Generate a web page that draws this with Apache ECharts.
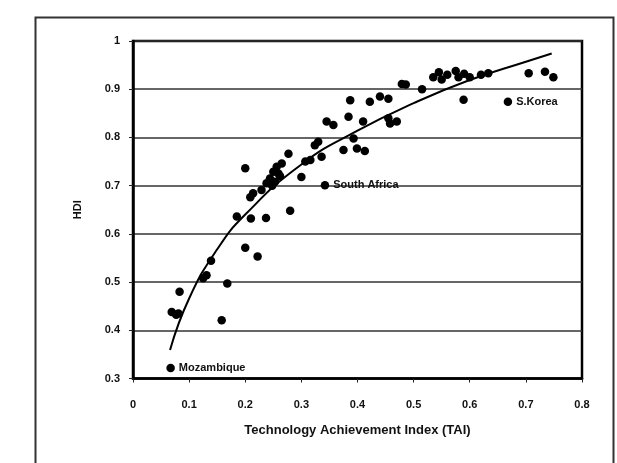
<!DOCTYPE html>
<html>
<head>
<meta charset="utf-8">
<script src="https://cdn.jsdelivr.net/npm/echarts@6/dist/echarts.min.js"></script>
<style>
html,body{margin:0;padding:0;background:#fff;}
#chart{width:617px;height:463px;}
</style>
</head>
<body>
<div id="chart"></div>
<script>
// Country points: Technology Achievement Index (TAI) vs HDI
var taiValues = [0.069,0.081,0.077,0.083,0.125,0.131,0.139,0.168,0.158,0.185,0.210,0.237,0.280,0.200,0.222,
  0.200,0.209,0.214,0.229,0.238,0.244,0.253,0.250,0.259,0.256,0.265,0.277,0.262,0.248,
  0.300,0.307,0.316,0.324,0.330,0.336,0.345,0.357,0.384,0.387,0.375,0.393,0.399,0.413,0.410,
  0.422,0.440,0.455,0.455,0.470,0.458,0.479,0.486,0.515,0.535,0.545,0.550,0.560,0.575,0.580,
  0.590,0.600,0.620,0.633,0.589,0.705,0.734,0.749];
var hdiValues = [0.438,0.435,0.432,0.480,0.508,0.514,0.544,0.497,0.421,0.636,0.632,0.633,0.648,0.571,0.553,
  0.736,0.676,0.684,0.691,0.705,0.715,0.708,0.729,0.725,0.739,0.746,0.766,0.720,0.700,
  0.718,0.750,0.753,0.784,0.791,0.760,0.833,0.826,0.843,0.877,0.774,0.798,0.777,0.772,0.833,
  0.874,0.885,0.880,0.840,0.833,0.829,0.911,0.910,0.900,0.925,0.935,0.920,0.930,0.938,0.925,
  0.932,0.925,0.930,0.933,0.878,0.933,0.936,0.925];
// Labelled countries
var labelNames = ["Mozambique","South Africa","S.Korea"];
var labelTai = [0.067,0.342,0.668];
var labelHdi = [0.322,0.701,0.874];
// Trend curve
var trendTai = [0.066,0.100,0.150,0.200,0.300,0.400,0.500,0.600,0.700,0.746];
var trendHdi = [0.359,0.466,0.568,0.640,0.744,0.814,0.871,0.919,0.957,0.974];

var pts = taiValues.map(function(x,i){return [x,hdiValues[i]];});
var lab = labelTai.map(function(x,i){return {value:[x,labelHdi[i]], name:labelNames[i]};});
var trend = trendTai.map(function(x,i){return [x,trendHdi[i]];});

var FONT = '"Liberation Sans", Arial, sans-serif';
var chart = echarts.init(document.getElementById('chart'), null, {renderer:'canvas'});
chart.setOption({
  animation:false,
  backgroundColor:'#ffffff',
  graphic:[{type:'rect', left:33, top:15, shape:{width:578, height:470},
    style:{fill:'none', stroke:'#333', lineWidth:2}, silent:true}],
  grid:{left:133, right:35, top:41, bottom:84.5, show:true, borderColor:'#000', borderWidth:2.5, backgroundColor:'#fff'},
  xAxis:{type:'value', min:0, max:0.8, interval:0.1,
    name:'Technology Achievement Index (TAI)', nameLocation:'middle', nameGap:45,
    nameTextStyle:{fontFamily:FONT, fontWeight:'bold', fontSize:13, color:'#111'},
    axisLine:{show:true, lineStyle:{color:'#000', width:2.5}},
    axisTick:{show:true, length:4, lineStyle:{color:'#222', width:1}},
    axisLabel:{margin:21, fontFamily:FONT, fontWeight:'bold', fontSize:11, color:'#111'},
    splitLine:{show:false}},
  yAxis:{type:'value', min:0.3, max:1, interval:0.1,
    name:'HDI', nameLocation:'middle', nameGap:50, nameRotate:90,
    nameTextStyle:{fontFamily:FONT, fontWeight:'bold', fontSize:11, color:'#111'},
    axisLine:{show:true, lineStyle:{color:'#000', width:2.5}},
    axisTick:{show:true, length:4, lineStyle:{color:'#222', width:1}},
    axisLabel:{margin:13, fontFamily:FONT, fontWeight:'bold', fontSize:11, color:'#111',
      formatter:function(v){return String(Math.round(v*10)/10);}},
    splitLine:{show:true, lineStyle:{color:'#333', width:1.5}}},
  series:[
    {type:'scatter', data:pts, symbol:'circle', symbolSize:8.5, itemStyle:{color:'#000', opacity:1}, z:3},
    {type:'scatter', data:lab, symbol:'circle', symbolSize:8.5, itemStyle:{color:'#000', opacity:1}, z:3,
      label:{show:true, position:'right', distance:4, formatter:'{b}',
        fontFamily:FONT, fontWeight:'bold', fontSize:11, color:'#111'}},
    {type:'line', data:trend, smooth:true, showSymbol:false, symbol:'none',
      lineStyle:{color:'#000', width:2}, z:4}
  ]
});
</script>
</body>
</html>
